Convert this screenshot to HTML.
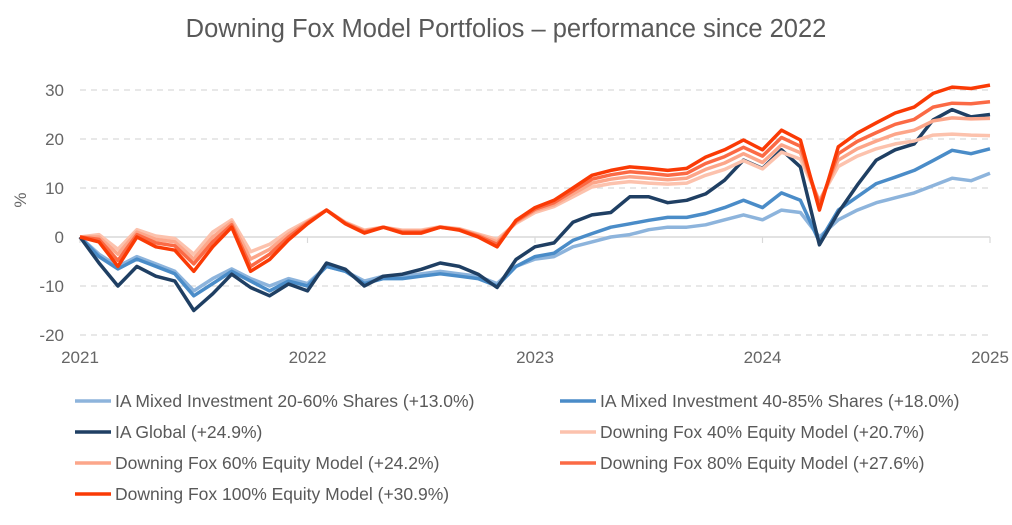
<!DOCTYPE html>
<html><head><meta charset="utf-8"><style>
body{margin:0;background:#fff;font-family:"Liberation Sans",sans-serif;}
svg text{font-family:"Liberation Sans",sans-serif;}
</style></head><body>
<svg id="chart" width="1012" height="520">
<text x="506" y="37" text-anchor="middle" font-size="25.5" fill="#595959">Downing Fox Model Portfolios – performance since 2022</text>
<text x="26" y="200" text-anchor="middle" font-size="17" fill="#666" transform="rotate(-90 26 200)">%</text>
<g id="grid"></g><g id="series"></g><g id="legend"></g>
</svg>
<script>
const yTicks=[30,20,10,0,-10,-20];
const xTickLabels=["2021","2022","2023","2024","2025"];
const seriesNames=["IA Mixed Investment 20-60% Shares (+13.0%)","IA Mixed Investment 40-85% Shares (+18.0%)","IA Global (+24.9%)","Downing Fox 40% Equity Model (+20.7%)","Downing Fox 60% Equity Model (+24.2%)","Downing Fox 80% Equity Model (+27.6%)","Downing Fox 100% Equity Model (+30.9%)"];
const ia2060=[0,-3.5,-6,-4,-5.5,-7,-11,-8.5,-6.5,-8.5,-10,-8.5,-9.5,-6,-7,-9,-8,-8,-7.5,-7,-7.5,-8,-9.5,-6,-4.5,-4,-2,-1,0,0.5,1.5,2,2,2.5,3.5,4.5,3.5,5.5,5,0,3.5,5.5,7,8,9,10.5,12,11.5,13];
const ia4085=[0,-4,-6.5,-4.5,-6,-7.5,-12,-9.5,-7,-9,-11,-9,-10,-6,-7,-9.5,-8.5,-8.5,-8,-7.5,-8,-8.5,-10,-6,-4,-3.3,-0.7,0.7,2,2.7,3.4,4,4,4.8,6,7.5,6,9,7.5,-1,5.5,8.2,10.9,12.2,13.6,15.6,17.7,17,18];
const iaGlobal=[0,-5.3,-10,-6,-8,-9,-15,-11.6,-7.6,-10.3,-12,-9.6,-11,-5.3,-6.6,-10,-8,-7.6,-6.6,-5.3,-6,-7.6,-10.3,-4.6,-2,-1.2,3,4.5,5,8.2,8.2,7,7.5,8.8,11.6,15.7,14,17.8,14.3,-1.6,5,10.6,15.7,17.8,19,23.9,26,24.5,25];
const fox40=[0,0.5,-2.5,1.5,0.2,-0.3,-3.5,1,3.5,-3,-1.5,1.2,3.3,5.5,3,1.4,2,1.4,1.4,2.1,1.7,0.6,-0.5,2.8,5,6.2,8.2,10.2,10.9,11.3,11,10.8,11,12.6,13.8,15.6,13.9,17.3,15.9,7.5,14.4,16.5,18,19,19.6,20.8,21,20.8,20.7];
const fox60=[0,0,-3.5,1,-0.5,-1,-4.5,0,3,-4.5,-2.5,0.6,3.1,5.5,2.9,1.2,2,1.2,1.2,2,1.6,0.4,-1,3,5.4,6.6,8.8,11,11.8,12.3,12,11.7,12,13.8,15.1,17,15.2,18.8,17.2,7,15.7,18,19.6,21,21.8,23.7,24.3,24.1,24.2];
const fox80=[0,-0.5,-4.8,0.5,-1.2,-1.8,-5.5,-1,2.5,-6,-3.5,0,2.9,5.5,2.8,1,2,1,1,2,1.5,0.2,-1.5,3.2,5.7,7,9.4,11.8,12.7,13.3,13,12.6,13,15,16.4,18.3,16.5,20.3,18.5,6.5,17,19.5,21.3,23,24,26.5,27.3,27.2,27.6];
const fox100=[0,-1,-6,0,-2,-2.7,-7,-2,2,-7,-4.6,-0.6,2.7,5.5,2.7,0.8,2,0.8,0.8,2,1.4,0,-2,3.4,6,7.5,10,12.6,13.6,14.3,14,13.6,14,16.3,17.8,19.8,17.8,21.8,19.8,5.5,18.4,21.2,23.3,25.3,26.5,29.3,30.6,30.3,31];

const NS="http://www.w3.org/2000/svg";
const X0=80,X1=990,months=48;
const xS=m=>X0+(X1-X0)*m/months;
const yS=v=>237-v*4.9;
function mk(t,a,p){const e=document.createElementNS(NS,t);for(const k in a)e.setAttribute(k,a[k]);p.appendChild(e);return e;}
const grid=document.getElementById('grid');
yTicks.forEach(v=>{
  const l=mk('line',{x1:X0,x2:X1,y1:yS(v),y2:yS(v),stroke:'#d9d9d9','stroke-width':v===0?1.5:1.2,'stroke-dasharray':v===0?'':'6,5'},grid);
  
  
  const t=mk('text',{x:64,y:yS(v)+6,'text-anchor':'end','font-size':17,fill:'#666'},grid);t.textContent=v;
  
  
});
xTickLabels.forEach((s,i)=>{
  const x=xS(i*12);
  const tk=mk('line',{x1:x,x2:x,y1:237,y2:243,stroke:'#d9d9d9','stroke-width':1.2},grid);
  
  
  const t=mk('text',{x:x,y:363,'text-anchor':'middle','font-size':17,fill:'#666'},grid);t.textContent=s;
  
  
});
const data=[ia2060,ia4085,iaGlobal,fox40,fox60,fox80,fox100];
const colors=['#8db4dc','#4a8cc8','#1f3f63','#fcc2ad','#fca68a','#fb6a45','#fa3a05'];
const keys=['ia-20-60','ia-40-85','ia-global','fox-40','fox-60','fox-80','fox-100'];
const sg=document.getElementById('series');
data.forEach((arr,i)=>{
  const d=arr.map((v,m)=>(m?'L':'M')+xS(m).toFixed(1)+','+yS(v).toFixed(1)).join('');
  const p=mk('path',{d:d,fill:'none',stroke:colors[i],'stroke-width':3.5,'stroke-linejoin':'round'},sg);
  
  
});
const lg=document.getElementById('legend');
seriesNames.forEach((n,i)=>{
  const col=i%2,row=Math.floor(i/2);
  const x=col?560:75,y=401+row*31;
  const g=mk('g',{},lg);
  
  
  mk('line',{x1:x,x2:x+36,y1:y,y2:y,stroke:colors[i],'stroke-width':3.5},g);
  const t=mk('text',{x:x+40,y:y+6,'font-size':17.5,fill:'#595959'},g);t.textContent=n;
});
</script>
</body></html>
